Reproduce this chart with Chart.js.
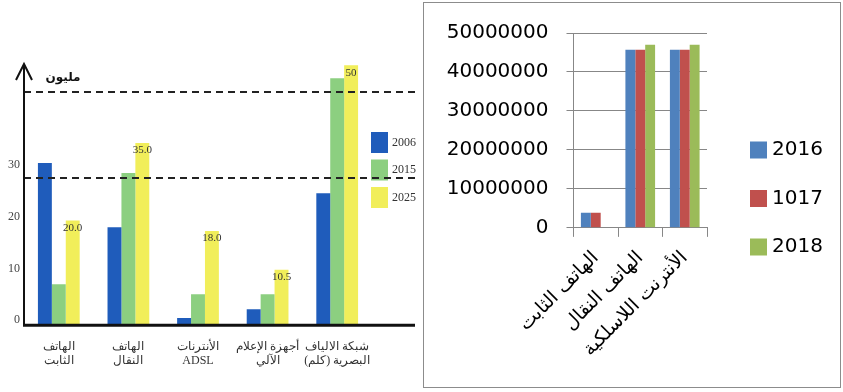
<!DOCTYPE html>
<html lang="ar">
<head>
<meta charset="utf-8">
<script src="https://cdn.jsdelivr.net/npm/chart.js@4/dist/chart.umd.min.js"></script>
<style>
  body { margin: 0; background: #fff; }
  #wrap { position: relative; width: 843px; height: 392px; overflow: hidden; }
  #planBox { position: absolute; left: 0; top: 0; }
  #subsBox { position: absolute; left: 423px; top: 2px; width: 416px; height: 384px; border: 1px solid #8c8c8c; }
  canvas { display: block; }
</style>
</head>
<body>
<div id="wrap">
  <div id="planBox"><canvas id="planChart" width="420" height="392"></canvas></div>
  <div id="subsBox"><canvas id="subsChart" width="416" height="384"></canvas></div>
</div>
<script>
// plan chart (millions)
var planCategories = [
    ["الهاتف", "الثابت"],
    ["الهاتف", "النقال"],
    ["الأنترنات", "ADSL"],
    ["أجهزة الإعلام", "الآلي"],
    ["شبكة الالياف", "البصرية (كلم)"]
];
var plan2006 = [31.1, 18.7, 1.2, 2.9, 25.3];
var plan2015 = [7.7, 29.2, 5.8, 5.8, 47.5];
var plan2025Text = ["20.0", "35.0", "18.0", "10.5", "50"];
var plan2025 = plan2025Text.map(Number);
var planTicks = [0, 10, 20, 30];
var planRefLines = [44.8, 28.2];

// subscribers chart
var subsCategories = ["الهاتف الثابت", "الهاتف النقال", "الأنترنت اللاسلكية"];
var subs2016 = [3900000, 45700000, 45700000];
var subs1017 = [3900000, 45700000, 45700000];
var subs2018 = [null, 47000000, 47000000];

// legend drawn next to the plot area
var sideLegend = {
    id: "sideLegend",
    afterDraw: function (chart, args, opts) {
        var ctx = chart.ctx;
        var area = chart.chartArea;
        ctx.save();
        ctx.font = opts.font;
        ctx.textBaseline = "middle";
        ctx.textAlign = "left";
        chart.data.datasets.forEach(function (ds, i) {
            var x = area.right + opts.dx;
            var y = area.top + opts.dy + i * opts.step;
            ctx.fillStyle = ds.backgroundColor;
            ctx.fillRect(x, y - opts.boxH / 2, opts.boxW, opts.boxH);
            ctx.fillStyle = opts.color;
            ctx.fillText(ds.label, x + opts.boxW + opts.gap, y);
        });
        ctx.restore();
    }
};

// axes with arrow, dashed reference lines, value labels
var planDecor = {
    id: "planDecor",
    afterDraw: function (chart) {
        var ctx = chart.ctx;
        var area = chart.chartArea;
        var y = chart.scales.y;
        var right = chart.width - 5;
        ctx.save();

        ctx.strokeStyle = "#222";
        ctx.lineWidth = 2;
        ctx.setLineDash([7, 5]);
        planRefLines.forEach(function (v) {
            var py = Math.round(y.getPixelForValue(v));
            ctx.beginPath();
            ctx.moveTo(area.left, py);
            ctx.lineTo(right, py);
            ctx.stroke();
        });
        ctx.setLineDash([]);

        ctx.strokeStyle = "#111";
        ctx.lineWidth = 2;
        ctx.beginPath();
        ctx.moveTo(area.left, area.bottom);
        ctx.lineTo(area.left, area.top + 4);
        ctx.stroke();
        ctx.beginPath();
        ctx.moveTo(area.left - 8, area.top + 20);
        ctx.lineTo(area.left, area.top + 4);
        ctx.lineTo(area.left + 8, area.top + 20);
        ctx.stroke();

        ctx.lineWidth = 3;
        ctx.beginPath();
        ctx.moveTo(area.left - 1, area.bottom + 1);
        ctx.lineTo(right, area.bottom + 1);
        ctx.stroke();

        ctx.fillStyle = "#111";
        ctx.font = "bold 12px 'DejaVu Sans'";
        ctx.textAlign = "center";
        ctx.textBaseline = "middle";
        ctx.fillText("مليون", area.left + 39, area.top + 18);

        var meta = chart.getDatasetMeta(2);
        ctx.font = "11px 'Liberation Serif'";
        ctx.fillStyle = "#333";
        ctx.textBaseline = "top";
        meta.data.forEach(function (bar, i) {
            ctx.fillText(plan2025Text[i], bar.x, bar.y + 2);
        });
        ctx.restore();
    }
};

new Chart(document.getElementById("planChart").getContext("2d"), {
    type: "bar",
    data: {
        labels: planCategories,
        datasets: [
            { label: "2006", data: plan2006, backgroundColor: "#1f5cbb" },
            { label: "2015", data: plan2015, backgroundColor: "#8ccf80" },
            { label: "2025", data: plan2025, backgroundColor: "#f1ee5a" }
        ]
    },
    options: {
        responsive: false,
        animation: false,
        layout: { padding: { left: 0, top: 60, right: 48, bottom: 17 } },
        datasets: { bar: { categoryPercentage: 0.6, barPercentage: 1.0 } },
        scales: {
            x: {
                grid: { display: false },
                border: { display: false },
                afterFit: function (scale) {
                    scale.paddingLeft = 0;
                },
                ticks: {
                    font: { family: "Liberation Serif", size: 12 },
                    color: "#333",
                    padding: 7,
                    maxRotation: 0,
                    autoSkip: false
                }
            },
            y: {
                min: 0,
                max: 51,
                grid: { display: false },
                border: { display: false },
                afterBuildTicks: function (scale) {
                    scale.ticks = planTicks.map(function (v) { return { value: v }; });
                },
                afterFit: function (scale) {
                    scale.width = 24;
                },
                ticks: {
                    font: { family: "Liberation Serif", size: 12 },
                    color: "#444",
                    padding: -4,
                    labelOffset: -4
                }
            }
        },
        plugins: {
            legend: { display: false },
            tooltip: { enabled: false },
            sideLegend: {
                dx: -1, dy: 82.5, step: 27.5, boxW: 17, boxH: 21, gap: 4,
                font: "12px 'Liberation Serif'", color: "#333"
            }
        }
    },
    plugins: [sideLegend, planDecor]
});

new Chart(document.getElementById("subsChart").getContext("2d"), {
    type: "bar",
    data: {
        labels: subsCategories,
        datasets: [
            { label: "2016", data: subs2016, backgroundColor: "#4f81bd" },
            { label: "1017", data: subs1017, backgroundColor: "#c0504d" },
            { label: "2018", data: subs2018, backgroundColor: "#9bbb59" }
        ]
    },
    options: {
        responsive: false,
        animation: false,
        layout: { padding: { left: 16, top: 30, right: 133, bottom: 16 } },
        datasets: { bar: { categoryPercentage: 0.667, barPercentage: 1.0 } },
        scales: {
            x: {
                grid: { drawOnChartArea: false, color: "#878787", tickLength: 9 },
                border: { color: "#878787" },
                ticks: {
                    font: { family: "DejaVu Sans", size: 19 },
                    color: "#000",
                    minRotation: 45,
                    maxRotation: 45,
                    autoSkip: false,
                    padding: 10
                }
            },
            y: {
                min: 0,
                max: 50000000,
                grid: { color: "#878787", tickLength: 7 },
                border: { color: "#878787" },
                ticks: {
                    stepSize: 10000000,
                    font: { family: "DejaVu Sans", size: 20 },
                    color: "#000",
                    padding: 18,
                    callback: function (v) { return String(v); }
                }
            }
        },
        plugins: {
            legend: { display: false },
            tooltip: { enabled: false },
            sideLegend: {
                dx: 43, dy: 117, step: 48.5, boxW: 17, boxH: 17, gap: 5,
                font: "20px 'DejaVu Sans'", color: "#000"
            }
        }
    },
    plugins: [sideLegend]
});
</script>
</body>
</html>
